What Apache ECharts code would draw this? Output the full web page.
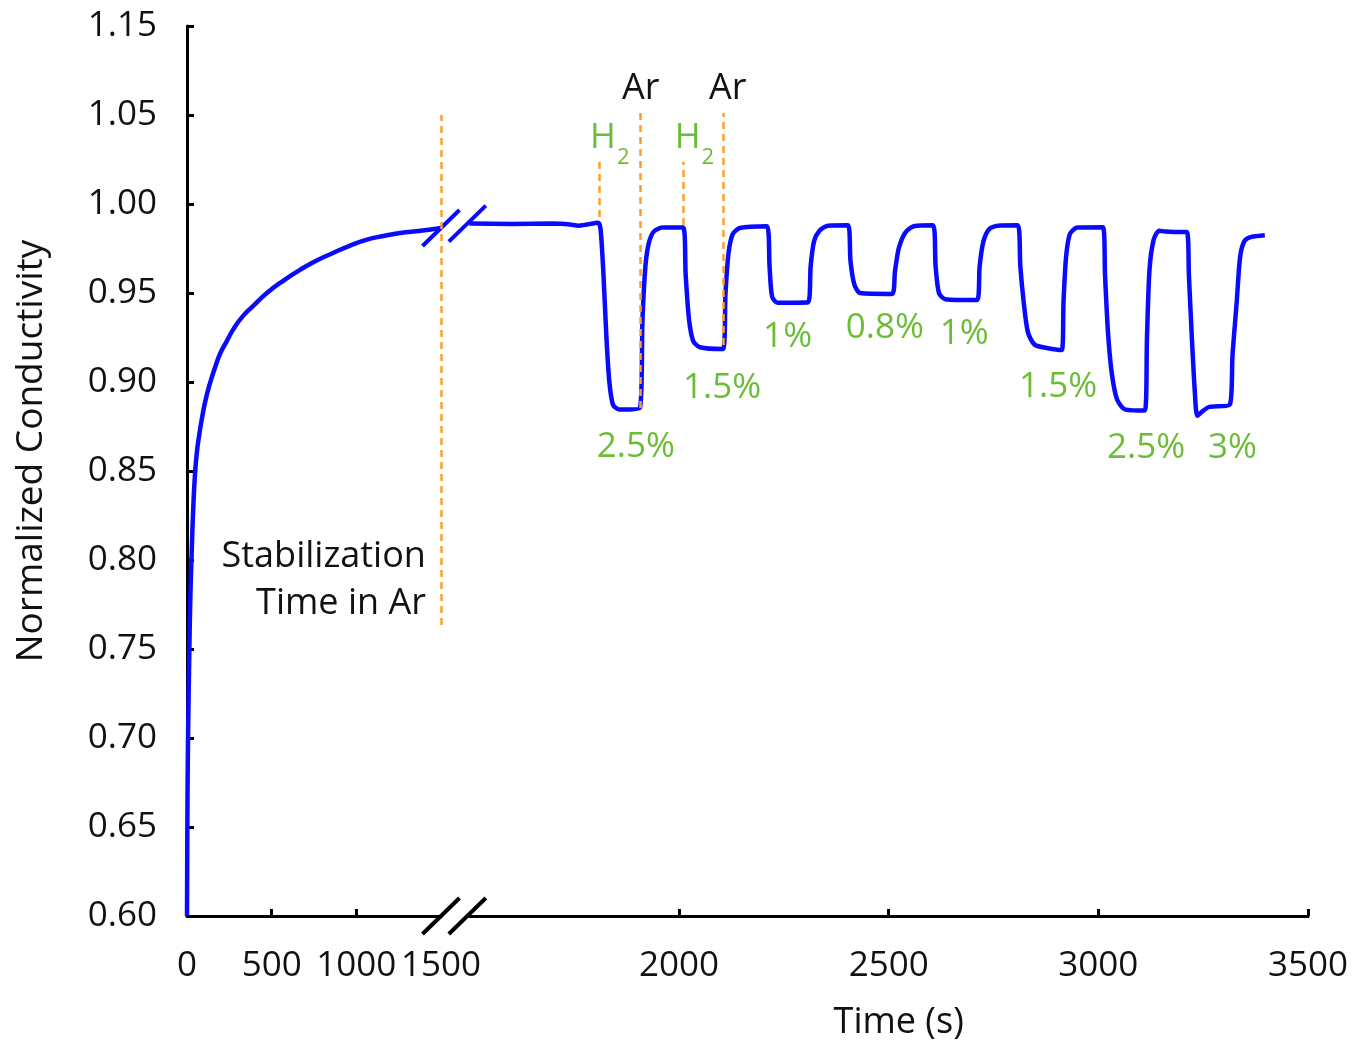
<!DOCTYPE html>
<html>
<head>
<meta charset="utf-8">
<script src="https://cdn.jsdelivr.net/npm/echarts@6/dist/echarts.min.js"></script>
<style>
  html, body { margin: 0; padding: 0; background: #fff; }
  #chart { width: 1354px; height: 1040px; }
</style>
</head>
<body>
<div id="chart"></div>
<script>
// stabilization in Ar (left, compressed part of the time axis)
const leftTime = [0, 2, 5, 9, 14, 20, 28, 36, 47, 60, 75, 89, 110, 136, 165, 196, 235, 276, 330, 394, 472, 570, 667, 760, 862, 960, 1063, 1160, 1258, 1380, 1500];
const leftValue = [0.60, 0.65, 0.69, 0.72, 0.75, 0.78, 0.805, 0.827, 0.848, 0.862, 0.872, 0.880, 0.890, 0.8994, 0.908, 0.916, 0.923, 0.930, 0.937, 0.943, 0.950, 0.957, 0.963, 0.968, 0.9725, 0.9765, 0.980, 0.982, 0.9837, 0.985, 0.9865];

// H2 / Ar cycling (right part)
const rightTime = [1500, 1600, 1700, 1740, 1760, 1780, 1807, 1813, 1820, 1827, 1834, 1843, 1860, 1907,
  1913, 1920, 1928, 1940, 1960, 2010, 2016, 2024, 2034, 2050, 2105,
  2111, 2118, 2128, 2145, 2210, 2216, 2222, 2235, 2308,
  2314, 2322, 2335, 2355, 2403, 2409, 2418, 2432, 2508,
  2515, 2524, 2540, 2560, 2606, 2612, 2620, 2635, 2711,
  2717, 2726, 2740, 2760, 2808, 2814, 2822, 2832, 2848, 2880, 2913,
  2917, 2923, 2932, 2950, 3011, 3016, 3023, 3032, 3045, 3065, 3111,
  3116, 3122, 3132, 3145, 3160, 3180, 3211, 3216, 3223, 3230, 3236, 3248, 3265, 3314,
  3320, 3330, 3338, 3348, 3365, 3397];
const rightValue = [0.989, 0.9888, 0.989, 0.9885, 0.9878, 0.9885, 0.9895, 0.986, 0.960, 0.925, 0.900, 0.887, 0.8845, 0.8855,
  0.935, 0.965, 0.978, 0.9845, 0.9868, 0.9868, 0.960, 0.935, 0.923, 0.9195, 0.9185,
  0.950, 0.972, 0.983, 0.9865, 0.9875, 0.965, 0.948, 0.9445, 0.9448,
  0.965, 0.979, 0.985, 0.9878, 0.988, 0.968, 0.955, 0.950, 0.9495,
  0.962, 0.975, 0.984, 0.9875, 0.988, 0.965, 0.950, 0.9465, 0.946,
  0.965, 0.979, 0.986, 0.9878, 0.988, 0.965, 0.945, 0.928, 0.921, 0.919, 0.918,
  0.945, 0.970, 0.983, 0.9868, 0.987, 0.960, 0.928, 0.905, 0.890, 0.8845, 0.884,
  0.925, 0.963, 0.980, 0.985, 0.9845, 0.9843, 0.9843, 0.960, 0.925, 0.895, 0.881, 0.8835, 0.886, 0.8875,
  0.915, 0.945, 0.970, 0.979, 0.9815, 0.9825];

const yTickLabels = ['0.60', '0.65', '0.70', '0.75', '0.80', '0.85', '0.90', '0.95', '1.00', '1.05', '1.15'];
const leftXTicks = [500, 1000];
const leftXLabels = [0, 500, 1000, 1500];
const rightXTicks = [2000, 2500, 3000, 3500];

// gas switching marks: [time, bottom, top]
const switchLines = [[1811, 0.9927, 1.0236], [1907, 0.8854, 1.0511], [2010, 0.9882, 1.0236], [2105, 0.9208, 1.0511]];
const stabLine = [1500, 0.7635, 1.05];

const gasLabels = [
  { name: 'Ar', t: 1909, v: 1.0645, green: false },
  { name: 'Ar', t: 2116, v: 1.0645, green: false },
  { name: 'H2', t: 1788, v: 1.0368, green: true },
  { name: 'H2', t: 1990, v: 1.0368, green: true }
];
const pctLabels = [
  { name: '2.5%', t: 1897, v: 0.8635 },
  { name: '1.5%', t: 2103, v: 0.8966 },
  { name: '1%', t: 2259, v: 0.925 },
  { name: '0.8%', t: 2491, v: 0.9306 },
  { name: '1%', t: 2680, v: 0.927 },
  { name: '1.5%', t: 2904, v: 0.897 },
  { name: '2.5%', t: 3114, v: 0.863 },
  { name: '3%', t: 3320, v: 0.863 }
];

const BLUE = '#0a0aff';
const GREEN = '#6cbd36';
const ORANGE = '#f9a12f';
const FONT = 'Open Sans';

const chart = echarts.init(document.getElementById('chart'));

function pairs(xs, ys) {
  return xs.map((x, i) => [x, ys[i]]);
}

const axisLineStyle = { color: '#000', width: 3 };
const tickStyle = { show: true, inside: true, length: 7, lineStyle: { color: '#000', width: 3 } };
const dashStyle = { color: ORANGE, width: 2.5, type: [7, 5] };

const option = {
  animation: false,
  grid: [
    { left: 187, width: 254, top: 26, bottom: 124, outerBoundsMode: 'none' },
    { left: 469.3, right: 46, top: 26, bottom: 124, outerBoundsMode: 'none' }
  ],
  xAxis: [
    {
      gridIndex: 0, type: 'value', min: 0, max: 1500, interval: 500,
      axisLine: { lineStyle: axisLineStyle },
      axisTick: Object.assign({ customValues: leftXTicks }, tickStyle),
      splitLine: { show: false },
      axisLabel: {
        color: '#111', fontSize: 35, fontFamily: FONT, margin: 33,
        customValues: leftXLabels, hideOverlap: false, formatter: (v) => String(v)
      }
    },
    {
      gridIndex: 1, type: 'value', min: 1500, max: 3500, interval: 500,
      axisLine: { lineStyle: axisLineStyle },
      axisTick: Object.assign({ customValues: rightXTicks }, tickStyle),
      splitLine: { show: false },
      axisLabel: {
        color: '#111', fontSize: 35, fontFamily: FONT, margin: 33,
        customValues: rightXTicks, hideOverlap: false, formatter: (v) => String(v)
      },
      name: 'Time (s)', nameLocation: 'middle', nameGap: 89,
      nameTextStyle: { color: '#111', fontSize: 36, fontFamily: FONT, padding: [0, 0, 0, 20] }
    }
  ],
  yAxis: [
    {
      gridIndex: 0, type: 'value', min: 0.6, max: 1.1, interval: 0.05,
      axisLine: { show: true, lineStyle: axisLineStyle },
      axisTick: tickStyle,
      splitLine: { show: false },
      axisLabel: {
        color: '#111', fontSize: 35, fontFamily: FONT, margin: 30,
        formatter: (v) => yTickLabels[Math.round((v - 0.6) / 0.05)]
      },
      name: 'Normalized Conductivity', nameLocation: 'middle', nameGap: 137,
      nameTextStyle: { color: '#111', fontSize: 37, fontFamily: FONT, padding: [0, 0, 0, 40] }
    },
    { gridIndex: 1, type: 'value', min: 0.6, max: 1.1, show: false }
  ],
  series: [
    {
      type: 'line', xAxisIndex: 0, yAxisIndex: 0,
      data: pairs(leftTime, leftValue),
      smooth: true, symbol: 'none',
      lineStyle: { color: BLUE, width: 4.5 },
      markLine: {
        silent: true, symbol: ['none', 'none'], label: { show: false },
        lineStyle: dashStyle,
        data: [[{ coord: [stabLine[0], stabLine[1]] }, { coord: [stabLine[0], stabLine[2]] }]]
      },
      markPoint: {
        silent: true, symbol: 'rect', symbolSize: 1, itemStyle: { color: 'rgba(0,0,0,0)' },
        data: [{
          name: 'Stabilization\nTime in Ar', coord: [1411, 0.7885],
          label: {
            show: true, position: 'inside', align: 'right', formatter: '{b}',
            color: '#111', fontSize: 36, fontFamily: FONT, lineHeight: 47
          }
        }]
      }
    },
    {
      type: 'line', xAxisIndex: 1, yAxisIndex: 1,
      data: pairs(rightTime, rightValue),
      smooth: 0.25, symbol: 'none',
      lineStyle: { color: BLUE, width: 4.5 },
      markLine: {
        silent: true, symbol: ['none', 'none'], label: { show: false },
        lineStyle: dashStyle,
        data: switchLines.map(d => [{ coord: [d[0], d[1]] }, { coord: [d[0], d[2]] }])
      },
      markPoint: {
        silent: true, symbol: 'rect', symbolSize: 1, itemStyle: { color: 'rgba(0,0,0,0)' },
        data: pctLabels.map(p => ({
          name: p.name, coord: [p.t, p.v],
          label: { show: true, position: 'inside', formatter: '{b}', color: GREEN, fontSize: 35, fontFamily: FONT }
        })).concat(gasLabels.map(g => g.green ? {
          name: g.name, coord: [g.t, g.v],
          label: {
            show: true, position: 'inside', align: 'left', formatter: '{h|H}{s|2}',
            rich: {
              h: { color: GREEN, fontSize: 35, fontFamily: FONT },
              s: { color: GREEN, fontSize: 22, fontFamily: FONT, padding: [38, 0, 0, 1] }
            }
          }
        } : {
          name: g.name, coord: [g.t, g.v],
          label: { show: true, position: 'inside', formatter: '{b}', color: '#111', fontSize: 36, fontFamily: FONT }
        }))
      }
    }
  ]
};

chart.setOption(option);

// axis break marks ("//") on the x axis and on the curve
function slash(cx, cy, color) {
  return {
    type: 'line', silent: true,
    shape: { x1: cx - 18.5, y1: cy + 18, x2: cx + 18.5, y2: cy - 18 },
    style: { stroke: color, lineWidth: 4 }
  };
}
const axisL = chart.convertToPixel({ xAxisIndex: 0, yAxisIndex: 0 }, [1500, 0.6]);
const axisR = chart.convertToPixel({ xAxisIndex: 1, yAxisIndex: 1 }, [1500, 0.6]);
const curveL = chart.convertToPixel({ xAxisIndex: 0, yAxisIndex: 0 }, [1500, leftValue[leftValue.length - 1]]);
const curveR = chart.convertToPixel({ xAxisIndex: 1, yAxisIndex: 1 }, [1500, rightValue[0]]);
chart.setOption({
  graphic: [
    slash(axisL[0], axisL[1], '#000'), slash(axisR[0] - 2, axisR[1], '#000'),
    slash(curveL[0], curveL[1], BLUE), slash(curveR[0] - 2, curveR[1], BLUE)
  ]
});
</script>
</body>
</html>
